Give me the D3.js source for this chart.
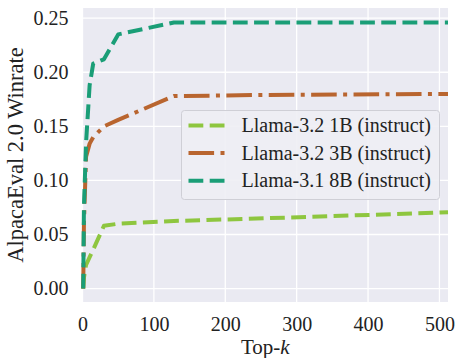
<!DOCTYPE html>
<html>
<head>
<meta charset="utf-8">
<script src="https://cdn.jsdelivr.net/npm/d3@7"></script>
<style>
  body { margin: 0; background: #fff; }
  svg { display: block; }
  text { font-family: "Liberation Serif", "DejaVu Serif", serif; fill: #222; }
</style>
</head>
<body>
<svg width="458" height="358"></svg>
<script>
// top-k values and winrates
var topK = [1, 2, 5, 10, 15, 30, 50, 128, 256, 512];
var llama1B = [0.0, 0.010, 0.022, 0.029, 0.036, 0.058, 0.060, 0.0625, 0.065, 0.0705];
var llama3B = [0.0, 0.060, 0.122, 0.134, 0.140, 0.150, 0.156, 0.178, 0.179, 0.180];
var llama8B = [0.0, 0.075, 0.135, 0.188, 0.208, 0.212, 0.235, 0.246, 0.246, 0.246];

var seriesNames = ["Llama-3.2 1B (instruct)", "Llama-3.2 3B (instruct)", "Llama-3.1 8B (instruct)"];
var xTicks = [0, 100, 200, 300, 400, 500];
var yTicks = [0.00, 0.05, 0.10, 0.15, 0.20, 0.25];

var series = [
  {name: seriesNames[0], values: llama1B, color: "#8ec63f", dash: "14.8,6.4"},
  {name: seriesNames[1], values: llama3B, color: "#b9652f", dash: "25.6,6.4,4,6.4"},
  {name: seriesNames[2], values: llama8B, color: "#1a9e77", dash: "14.8,6.4"}
];

var svg = d3.select("svg"),
  margin = {top: 8, right: 10, bottom: 56, left: 82.5},
  width = +svg.attr("width") - margin.left - margin.right,
  height = +svg.attr("height") - margin.top - margin.bottom,
  g = svg.append("g").attr("transform", "translate(" + margin.left + "," + margin.top + ")");

var x = d3.scaleLinear().domain([0, 512]).range([0, width]);
var y = d3.scaleLinear().domain([-0.0124, 0.2594]).range([height, 0]);

// background
g.append("rect")
  .attr("width", width)
  .attr("height", height)
  .attr("fill", "#eaeaf2");

// grid
g.selectAll(".xgrid").data(xTicks).enter().append("line")
  .attr("x1", function(d) { return x(d); })
  .attr("x2", function(d) { return x(d); })
  .attr("y1", 0).attr("y2", height)
  .attr("stroke", "#fff").attr("stroke-width", 1.3);

g.selectAll(".ygrid").data(yTicks).enter().append("line")
  .attr("y1", function(d) { return y(d); })
  .attr("y2", function(d) { return y(d); })
  .attr("x1", 0).attr("x2", width)
  .attr("stroke", "#fff").attr("stroke-width", 1.3);

// axes (tick labels only)
var xAxis = g.append("g")
  .attr("transform", "translate(0," + height + ")")
  .call(d3.axisBottom(x).tickValues(xTicks).tickSize(0).tickPadding(15).tickFormat(d3.format("d")));
xAxis.select(".domain").remove();
xAxis.selectAll("text").style("font-size", "20px").style("font-family", null).attr("fill", "#222");

var yAxis = g.append("g")
  .call(d3.axisLeft(y).tickValues(yTicks).tickSize(0).tickPadding(14).tickFormat(d3.format(".2f")));
yAxis.select(".domain").remove();
yAxis.selectAll("text").style("font-size", "20px").style("font-family", null).attr("fill", "#222");

// axis titles
var xTitle = svg.append("text")
  .attr("x", margin.left + width / 2)
  .attr("y", 354)
  .attr("text-anchor", "middle")
  .style("font-size", "21px");
xTitle.append("tspan").text("Top-");
xTitle.append("tspan").style("font-style", "italic").text("k");

svg.append("text")
  .attr("transform", "translate(23," + (margin.top + height / 2) + ") rotate(-90)")
  .attr("text-anchor", "middle")
  .style("font-size", "22.5px")
  .text("AlpacaEval 2.0 Winrate");

// lines
var line = d3.line()
  .x(function(d, i) { return x(topK[i]); })
  .y(function(d) { return y(d); });

series.forEach(function(s) {
  g.append("path")
    .datum(s.values)
    .attr("fill", "none")
    .attr("stroke", s.color)
    .attr("stroke-width", 4)
    .attr("stroke-dasharray", s.dash)
    .attr("stroke-linejoin", "round")
    .attr("d", line);
});

// legend
var legend = svg.append("g").attr("transform", "translate(181.5,110.5)");
legend.append("rect")
  .attr("width", 258)
  .attr("height", 89)
  .attr("rx", 3)
  .attr("fill", "#eeeef4")
  .attr("fill-opacity", 0.9)
  .attr("stroke", "#cfcfd6")
  .attr("stroke-width", 1);

series.forEach(function(s, i) {
  var row = legend.append("g").attr("transform", "translate(0," + (15 + i * 27.6) + ")");
  row.append("line")
    .attr("x1", 7).attr("x2", 43)
    .attr("stroke", s.color)
    .attr("stroke-width", 4)
    .attr("stroke-dasharray", s.dash);
  row.append("text")
    .attr("x", 60)
    .attr("dy", "0.33em")
    .style("font-size", "20px")
    .text(s.name);
});
</script>
</body>
</html>
